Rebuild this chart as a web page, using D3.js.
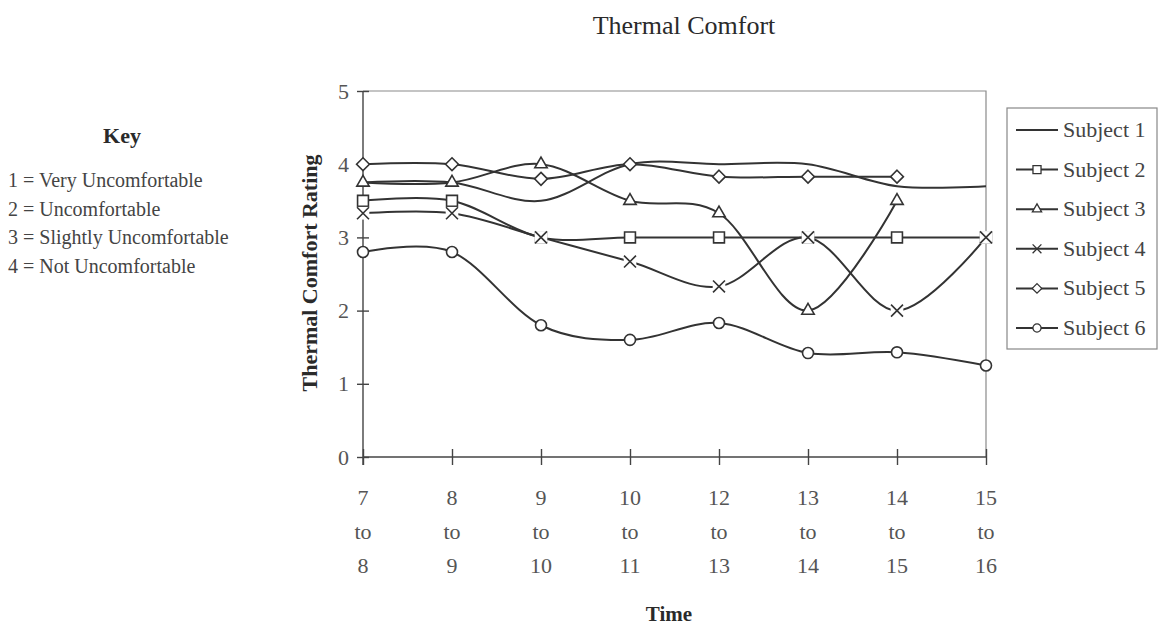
<!DOCTYPE html>
<html>
<head>
<meta charset="utf-8">
<script src="https://cdn.jsdelivr.net/npm/d3@7"></script>
<style>
  body { margin: 0; background: #fff; }
  svg { display: block; font-family: "Liberation Serif", "Times New Roman", serif; }
</style>
</head>
<body>
<svg id="chart" width="1167" height="631"></svg>
<script>
var width = 1167;
var height = 631;

// time slots (three-line tick labels)
var slotFrom = ["7", "8", "9", "10", "12", "13", "14", "15"];
var slotTo = ["8", "9", "10", "11", "13", "14", "15", "16"];

// ratings per subject (null = no reading)
var subject1 = [3.75, 3.75, 3.5, 4.0, 4.0, 4.0, 3.7, 3.7];
var subject2 = [3.5, 3.5, 3.0, 3.0, 3.0, 3.0, 3.0, 3.0];
var subject3 = [3.75, 3.75, 4.0, 3.5, 3.33, 2.0, 3.5, null];
var subject4 = [3.33, 3.33, 3.0, 2.67, 2.33, 3.0, 2.0, 3.0];
var subject5 = [4.0, 4.0, 3.8, 4.0, 3.83, 3.83, 3.83, null];
var subject6 = [2.8, 2.8, 1.8, 1.6, 1.83, 1.42, 1.43, 1.25];

var subjectNames = ["Subject 1", "Subject 2", "Subject 3", "Subject 4", "Subject 5", "Subject 6"];
var yTicks = [0, 1, 2, 3, 4, 5];

var keyLines = ["1 = Very Uncomfortable", "2 = Uncomfortable", "3 = Slightly Uncomfortable", "4 = Not Uncomfortable"];

var ink = "#2a2a2a";

// marker per subject
var markers = [
    null,
    {type: d3.symbolSquare2, size: 150},
    {type: d3.symbolTriangle2, size: 110},
    {type: d3.symbolTimes, size: 95},
    {type: d3.symbolDiamond2, size: 105},
    {type: d3.symbolCircle, size: 95}
];

var series = [subject1, subject2, subject3, subject4, subject5, subject6].map(function(vals, i) {
    return {name: subjectNames[i], marker: markers[i], values: vals.map(function(v, j) { return {slot: slotFrom[j], v: v}; })};
});

var svg = d3.select("#chart");

var x = d3.scalePoint().domain(slotFrom).range([363, 986]).padding(0);
var y = d3.scaleLinear().domain([0, 5]).range([457, 91]);

// title
svg.append("text")
    .attr("x", 684).attr("y", 34)
    .attr("text-anchor", "middle")
    .attr("font-size", 26)
    .attr("fill", ink)
    .text("Thermal Comfort");

// plot frame (top and right)
svg.append("path")
    .attr("d", "M" + x.range()[0] + "," + y(5) + "H" + x.range()[1] + "V" + y(0))
    .attr("fill", "none")
    .attr("stroke", "#8a8a8a")
    .attr("stroke-width", 1.2);

// y axis
var yAxis = svg.append("g")
    .attr("transform", "translate(" + x.range()[0] + ",0)")
    .call(d3.axisLeft(y).tickValues(yTicks).tickSize(6).tickPadding(8).tickFormat(d3.format("d")));
yAxis.selectAll(".tick line").attr("x2", -6).attr("x1", 6);
yAxis.select(".domain").attr("d", "M0," + (y(0) + 8) + "V" + y(5));

// x axis
var xAxis = svg.append("g")
    .attr("transform", "translate(0," + y(0) + ")")
    .call(d3.axisBottom(x).tickSize(8).tickFormat(""));
xAxis.selectAll(".tick line").attr("y1", -8).attr("y2", 8);
xAxis.select(".domain").attr("d", "M" + x.range()[0] + ",0H" + x.range()[1]);

[yAxis, xAxis].forEach(function(g) {
    g.selectAll(".domain, .tick line").attr("stroke", "#444").attr("stroke-width", 1.4);
    g.selectAll("text").attr("font-family", "Liberation Serif, serif").attr("font-size", 22).attr("fill", "#555");
});

// three-line x labels
var xl = svg.append("g").selectAll("text").data(slotFrom).join("text")
    .attr("x", function(d) { return x(d); })
    .attr("text-anchor", "middle")
    .attr("font-size", 22)
    .attr("fill", "#555");
xl.append("tspan").attr("x", function(d) { return x(d); }).attr("y", 505).text(function(d) { return d; });
xl.append("tspan").attr("x", function(d) { return x(d); }).attr("y", 539).text("to");
xl.append("tspan").attr("x", function(d) { return x(d); }).attr("y", 573).text(function(d, i) { return slotTo[i]; });

// axis titles
svg.append("text")
    .attr("x", 669).attr("y", 621)
    .attr("text-anchor", "middle")
    .attr("font-size", 21).attr("font-weight", "bold")
    .attr("fill", ink)
    .text("Time");

svg.append("text")
    .attr("transform", "translate(317,273) rotate(-90)")
    .attr("text-anchor", "middle")
    .attr("font-size", 22).attr("font-weight", "bold")
    .attr("fill", ink)
    .text("Thermal Comfort Rating");

// lines
var line = d3.line()
    .defined(function(d) { return d.v != null; })
    .x(function(d) { return x(d.slot); })
    .y(function(d) { return y(d.v); })
    .curve(d3.curveCardinal.tension(0));

var plot = svg.append("g");
plot.selectAll("path.series").data(series).join("path")
    .attr("class", "series")
    .attr("d", function(d) { return line(d.values); })
    .attr("fill", "none")
    .attr("stroke", "#333")
    .attr("stroke-width", 2);

// markers (later series sit on top; the x marks get a white backing so they hide the squares below)
series.forEach(function(s) {
    if (!s.marker) return;
    var isX = s.marker.type === d3.symbolTimes;
    var pts = s.values.filter(function(d) { return d.v != null; });
    var g = plot.append("g");
    if (isX) {
        g.selectAll("path.back").data(pts).join("path")
            .attr("class", "back")
            .attr("transform", function(d) { return "translate(" + x(d.slot) + "," + y(d.v) + ")"; })
            .attr("d", d3.symbol().type(d3.symbolSquare).size(160))
            .attr("fill", "#fff");
    }
    var sym = d3.symbol().type(s.marker.type).size(s.marker.size);
    g.selectAll("path.mark").data(pts).join("path")
        .attr("class", "mark")
        .attr("transform", function(d) { return "translate(" + x(d.slot) + "," + y(d.v) + ")"; })
        .attr("d", sym)
        .attr("fill", isX ? "none" : "#fff")
        .attr("stroke", "#333")
        .attr("stroke-width", 1.6);
});

// legend
var legend = svg.append("g");
legend.append("rect")
    .attr("x", 1007).attr("y", 108)
    .attr("width", 150).attr("height", 241)
    .attr("fill", "#fff")
    .attr("stroke", "#888").attr("stroke-width", 1.2);

var items = legend.selectAll("g.item").data(series).join("g")
    .attr("class", "item")
    .attr("transform", function(d, i) { return "translate(0," + (130 + i * 39.6) + ")"; });
items.append("line")
    .attr("x1", 1016).attr("x2", 1058)
    .attr("stroke", "#333").attr("stroke-width", 2);
items.each(function(d) {
    if (!d.marker) return;
    d3.select(this).append("path")
        .attr("transform", "translate(1037,0)")
        .attr("d", d3.symbol().type(d.marker.type).size(d.marker.size * 0.55))
        .attr("fill", d.marker.type === d3.symbolTimes ? "none" : "#fff")
        .attr("stroke", "#333").attr("stroke-width", 1.3);
});
items.append("text")
    .attr("x", 1063).attr("y", 7)
    .attr("font-size", 22)
    .attr("fill", "#444")
    .text(function(d) { return d.name; });

// key (rating meanings)
svg.append("text")
    .attr("x", 122).attr("y", 143)
    .attr("text-anchor", "middle")
    .attr("font-size", 22).attr("font-weight", "bold")
    .attr("fill", ink)
    .text("Key");

svg.append("g").selectAll("text").data(keyLines).join("text")
    .attr("x", 8)
    .attr("y", function(d, i) { return 187 + i * 28.7; })
    .attr("font-size", 20)
    .attr("fill", "#444")
    .text(function(d) { return d; });
</script>
</body>
</html>
